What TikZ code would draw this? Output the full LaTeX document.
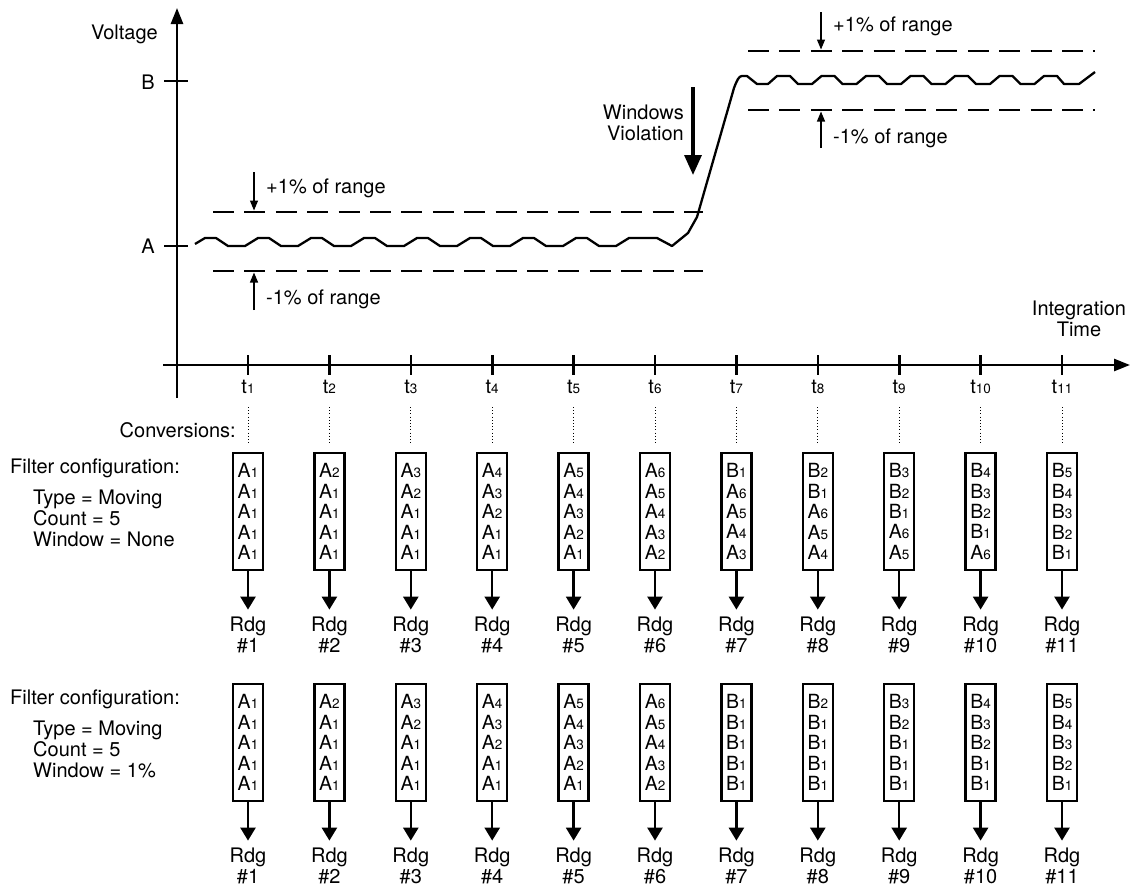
\documentclass[tikz,border=0pt]{standalone}
\usepackage{fontspec}
\setmainfont{TeX Gyre Heros}
\usetikzlibrary{arrows.meta,positioning}

% sample with small index, e.g. A1 -> A{small 1}
\newcommand{\smpx}[2]{#1{\fontsize{13.5}{13.5}\selectfont #2}}
\newcommand{\smp}[1]{\expandafter\smpx#1}

\begin{document}
\begin{tikzpicture}[
  x=1pt, y=-1pt,
  font=\fontsize{20}{21}\selectfont,
  lbl/.style={inner sep=0pt},
  axis/.style={line width=2.6pt, -{Triangle[length=16pt,width=12pt]}},
  wave/.style={line width=2.3pt, line join=round},
  band/.style={line width=2.6pt, dash pattern=on 21pt off 10.4pt},
  note/.style={line width=1.2pt, -{Triangle[length=10pt,width=8pt]}},
  cell/.style={draw, line width=2.5pt, minimum width=30pt, minimum height=117pt, inner sep=0pt, align=center, font=\fontsize{19.5}{20.4}\selectfont},
  rdg/.style={align=center, inner xsep=0pt, inner ysep=7.5pt},
  arr/.style={line width=2.5pt, -{Triangle[length=13pt,width=15pt]}},
  dotline/.style={line width=0.9pt, dash pattern=on 1pt off 2.2pt},
]
\useasboundingbox (0,0) rectangle (1134,886);

% axes
\draw[axis] (177,398) -- (177,8);
\draw[axis] (163,365) -- (1130,365);
\draw[line width=2.6pt] (164,81) -- (188,81);
\draw[line width=2.6pt] (164,246) -- (188,246);
\node[lbl, anchor=base east] (volt) at (158,39) {Voltage};
\node[lbl, anchor=base] (lvlb) at (148,89.3) {B};
\node[lbl, anchor=base] (lvla) at (148,253.3) {A};
\node[lbl, align=center] (itime) at (1079,318.8) {Integration\\Time};

% signal
\draw[wave] (195,244) -- (205,238)
  \foreach \k in {1,...,8} { -- ++(11,0) -- ++(12,8) -- ++(17,0) -- ++(13,-8) }
  -- ++(28,0) -- (672,246) -- (688,233) -- (697,217) -- (734,88)
  .. controls (737,80) and (739,76) .. (742,76) -- (747,76) -- (757,84) -- (768,84) -- (777,76)
  \foreach \k in {1,...,6} { -- ++(13,0) -- ++(8,8) -- ++(14,0) -- ++(9.5,-8) }
  -- ++(13,0) -- ++(7,8) -- (1079,84) -- (1095,72);

% 1% windows
\draw[band] (213,212) -- (703,212);
\draw[band] (213,271) -- (703,271);
\draw[band] (748,51) -- (1094.5,51);
\draw[band] (748,110) -- (1094.5,110);
\draw[note] (254,172) -- (254,210.5);
\draw[note] (254,310) -- (254,272.5);
\draw[note] (821,12) -- (821,49.5);
\draw[note] (821,148) -- (821,111.5);
\node[lbl, anchor=base west] (pa) at (266,193) {+1\% of range};
\node[lbl, anchor=base west] (ma) at (266,304) {-1\% of range};
\node[lbl, anchor=base west] (pb) at (833,31.5) {+1\% of range};
\node[lbl, anchor=base west] (mb) at (833,143) {-1\% of range};

\node[lbl, anchor=east, align=right] (viol) at (684,122.7) {Windows\\Violation};
\draw[line width=3.3pt, -{Triangle[length=20pt,width=17pt]}] (693,87) -- (693,175);

% time marks
\foreach \i in {1,...,11} {
  \pgfmathsetmacro\x{248+81.4*(\i-1)}
  \draw[line width=2.6pt] (\x,355) -- (\x,375);
  \node[lbl, anchor=base] (t\i) at (\x,393.5) {\smpx{t}{\i}};
  \draw[dotline] (\x,407) -- (\x,443);
}
\node[lbl, anchor=base east] (conv) at (236,437) {Conversions:};

% filter without window
\node[lbl, anchor=base west] (cfga) at (10,473) {Filter configuration:};
\node[lbl, anchor=west, align=left] (seta) at (33,518.8) {Type = Moving\\Count = 5\\Window = None};
\foreach \i/\ra/\rb/\rc/\rd/\re in {1/A1/A1/A1/A1/A1, 2/A2/A1/A1/A1/A1, 3/A3/A2/A1/A1/A1,
    4/A4/A3/A2/A1/A1, 5/A5/A4/A3/A2/A1, 6/A6/A5/A4/A3/A2, 7/B1/A6/A5/A4/A3,
    8/B2/B1/A6/A5/A4, 9/B3/B2/B1/A6/A5, 10/B4/B3/B2/B1/A6, 11/B5/B4/B3/B2/B1} {
  \pgfmathsetmacro\x{248+81.4*(\i-1)}
  \node[cell] (cella\i) at (\x,511.5) {\smp\ra\\\smp\rb\\\smp\rc\\\smp\rd\\\smp\re};
  \node[rdg] (rdga\i) at (\x,635.3) {Rdg\\\#\i};
  \draw[arr] (cella\i) -- (rdga\i);
}

% filter with 1% window
\node[lbl, anchor=base west] (cfgb) at (10,704) {Filter configuration:};
\node[lbl, anchor=west, align=left] (setb) at (33,749.8) {Type = Moving\\Count = 5\\Window = 1\%};
\foreach \i/\ra/\rb/\rc/\rd/\re in {1/A1/A1/A1/A1/A1, 2/A2/A1/A1/A1/A1, 3/A3/A2/A1/A1/A1,
    4/A4/A3/A2/A1/A1, 5/A5/A4/A3/A2/A1, 6/A6/A5/A4/A3/A2, 7/B1/B1/B1/B1/B1,
    8/B2/B1/B1/B1/B1, 9/B3/B2/B1/B1/B1, 10/B4/B3/B2/B1/B1, 11/B5/B4/B3/B2/B1} {
  \pgfmathsetmacro\x{248+81.4*(\i-1)}
  \node[cell] (cellb\i) at (\x,742.5) {\smp\ra\\\smp\rb\\\smp\rc\\\smp\rd\\\smp\re};
  \node[rdg] (rdgb\i) at (\x,866.3) {Rdg\\\#\i};
  \draw[arr] (cellb\i) -- (rdgb\i);
}
\end{tikzpicture}
\end{document}
